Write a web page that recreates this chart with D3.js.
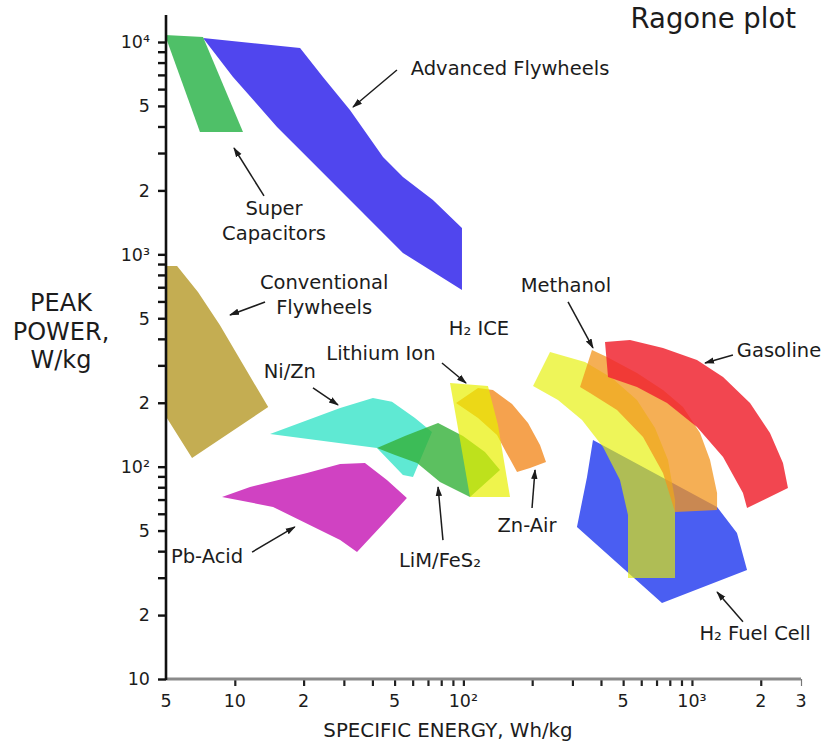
<!DOCTYPE html>
<html>
<head>
<meta charset="utf-8">
<script src="https://cdn.jsdelivr.net/npm/d3@7"></script>
<style>
  body { margin: 0; background: #fff; }
  text { font-family: "DejaVu Sans", Verdana, sans-serif; fill: #1c1c1c; }
</style>
</head>
<body>
<div id="container"></div>
<script>
/* DATA — every point is [specific energy Wh/kg, peak power W/kg] */
const superCapacitors = [[4.95,10790],[7.26,10560],[10.86,3769],[7.04,3769]]
const advancedFlywheels = [[7.26,10440],[19.3,9372],[24.3,6843],[31.9,4784],[44.5,2873],[54.4,2313],
  [73.6,1803],[98.6,1331],[98.6,679],[54.4,1015],[34.25,1671],[22.9,2578],[15.3,3978],[9.82,6843]]
const conventionalFlywheels = [[4.95,881],[5.59,881],[6.9,665],[8.6,465],[10.9,301],[14.0,191],[6.5,109.9],[4.95,175]]
const niZn = [[14.26,142.5],[28.9,188.9],[40.2,210.6],[48.7,202],[61.4,169.5],[72.9,145.7],[60.2,89.4],[54.4,91.4],[41.9,122.4]]
const pbAcid = [[8.79,72],[11.66,80.2],[20.7,93.4],[28.9,103],[37.1,104.1],[46.3,86.5],[56.6,71.2],
  [45.4,54.9],[34.25,39.6],[28.9,45.1],[14.7,64.6]]
const limFeS2 = [[41.9,122.4],[55.5,139.5],[77.5,160.6],[99.6,139.5],[124.3,117.3],[144.6,96.5],
  [106.9,72],[79,84.7],[62.7,104.1],[50.2,113.5]]
const znAir = [[92.9,199.5],[115.9,234.8],[134.7,229.6],[163.3,197.4],[191.8,160.6],[216.4,126.5],
  [229.9,105.2],[195.7,98.6],[171.7,94.4],[153.6,117.3],[140.3,141],[115.9,169.5]]
const lithiumIon = [[87.4,247.8],[128.1,239.9],[141.7,157.1],[160,72],[106.9,72],[96.7,133.6]]
const h2FuelCell = [[369,133.6],[1288,64.6],[1574,48.7],[1742,32.6],[739.6,22.8],[314,52],[347.5,89.4]]
const h2Ice = [[239.4,346.8],[340.5,311.2],[447,261.6],[574.8,206.1],[689.4,152.1],[785.8,107.5],[843.2,69.7],
  [843.2,29.9],[525.1,29.9],[525.1,59.2],[484.3,86.5],[408.2,123.8],[330.4,165.9],[259.4,206.1],[201.7,239.9]]
const methanol = [[365.3,354.5],[425,328.5],[574.8,276.2],[747.1,229.6],[914,191],[1085,144.1],[1200,107.5],
  [1288,75.2],[1288,62.5],[843.2,61.2],[747.1,93.4],[610.9,138],[470.1,184.9],[358.1,222.3],[323.9,237.3]]
const gasoline = [[416.5,386.6],[535.8,395],[747.1,362.3],[1052,318],[1368,264.5],[1795,199.5],[2195,144.1],
  [2502,104.1],[2631,79.4],[1742,63.9],[1672,75.2],[1368,111.1],[1052,153.8],[778,199.5],[574.8,237.3],[429.4,264.5]]

const xTicks = [10,20,30,40,50,60,70,80,90,100,200,300,400,500,600,700,800,900,1000,2000,3000]
const xLabelValues = [5,10,20,50,100,500,1000,2000,3000]
const xLabelText = ["5","10","2","5","10²","5","10³","2","3"]
const yTicks = [10,20,30,40,50,60,70,80,90,100,200,300,400,500,600,700,800,900,
  1000,2000,3000,4000,5000,6000,7000,8000,9000,10000]
const yLabelValues = [10,20,50,100,200,500,1000,2000,5000,10000]
const yLabelText = ["10","2","5","10²","2","5","10³","2","5","10⁴"]

// annotations: label centre / arrow tail / arrow tip, in data units
const labelText = ["Advanced Flywheels","Super\nCapacitors","Conventional\nFlywheels","Ni/Zn","Lithium Ion","H₂ ICE",
  "Methanol","Gasoline","Zn-Air","LiM/FeS₂","Pb-Acid","H₂ Fuel Cell"]
const labelAt = [[160,6990],[14.84,1532],[24.6,686.8],[17.4,261.6],[43.6,318],[117,417],
  [281,665],[2404,328.5],[189.8,49.2],[79,33.7],[7.56,35.2],[1888,15.3]]
const arrowFrom = [[51.2,7383],[13.42,1883],[13.56,596.5],[21.98,234.8],[80.6,307.8],null,
  [287,596.5],[1511,335.7],[199.7,63.9],[81.4,45.1],[11.9,39.6],[1672,18.6]]
const arrowTo = [[32.9,4942],[9.92,3168],[9.53,518],[28.28,195.2],[102.7,247.8],null,
  [369,362.3],[1141,307.8],[205.8,96.5],[77.5,80.2],[18.3,52],[1288,25.7]]

/* STYLES (draw order = layer order) */
const layers = [
  {pts: advancedFlywheels, fill: "#5046ee", op: 1},
  {pts: superCapacitors, fill: "#4fc068", op: 1},
  {pts: conventionalFlywheels, fill: "#c4ad52", op: 1},
  {pts: niZn, fill: "#5fe9d3", op: 1},
  {pts: pbAcid, fill: "#d042c2", op: 1},
  {pts: limFeS2, fill: "rgb(51,176,56)", op: 0.8},
  {pts: znAir, fill: "#f5a24e", op: 1},
  {pts: lithiumIon, fill: "rgb(232,240,0)", op: 0.7},
  {pts: h2FuelCell, fill: "#4a5ef2", op: 1},
  {pts: h2Ice, fill: "rgb(229,240,0)", op: 0.65},
  {pts: methanol, fill: "rgb(242,150,31)", op: 0.76},
  {pts: gasoline, fill: "rgb(240,38,49)", op: 0.85}
]

const width = 821, height = 751

const svg = d3.select("#container")
  .append("svg")
    .attr("width", width)
    .attr("height", height)
svg.append("rect").attr("width", width).attr("height", height).attr("fill", "#fff")

// SCALES
const xScale = d3.scaleLog().domain([5, 3000]).range([166, 801])
const yScale = d3.scaleLog().domain([10, 10000]).range([679, 42])

// REGIONS
const region = d3.line()
  .x(d => xScale(d[0]))
  .y(d => yScale(d[1]))
  .curve(d3.curveLinearClosed)

svg.append("g").selectAll("path")
  .data(layers)
  .join("path")
    .attr("d", d => region(d.pts))
    .attr("fill", d => d.fill)
    .attr("fill-opacity", d => d.op)

// AXES
const xAxis = svg.append("g")
  .attr("transform", "translate(0," + yScale(10) + ")")
  .call(d3.axisBottom(xScale).tickValues(xTicks).tickSize(7).tickFormat(""))
xAxis.select(".domain").remove()
xAxis.selectAll(".tick line").attr("stroke", "#222").attr("stroke-width", 2.2)
xAxis.selectAll(".tick line").filter(d => d === 3000).attr("stroke", "#777").attr("stroke-width", 1.2)

svg.append("line")
  .attr("x1", xScale(5)).attr("x2", xScale(3000))
  .attr("y1", yScale(10)).attr("y2", yScale(10))
  .attr("stroke", "#8a8a8a").attr("stroke-width", 3)

const yAxis = svg.append("g")
  .attr("transform", "translate(" + xScale(5) + ",0)")
  .call(d3.axisLeft(yScale).tickValues(yTicks).tickSize(8).tickFormat(""))
yAxis.select(".domain").remove()
yAxis.selectAll(".tick line").attr("stroke", "#111").attr("stroke-width", 2.4)

svg.append("line")
  .attr("x1", xScale(5)).attr("x2", xScale(5))
  .attr("y1", yScale(10) + 1).attr("y2", yScale(10000) - 27)
  .attr("stroke", "#111").attr("stroke-width", 2.6)

svg.append("g").selectAll("text")
  .data(xLabelValues)
  .join("text")
    .attr("x", d => xScale(d))
    .attr("y", yScale(10) + 28)
    .attr("text-anchor", "middle")
    .style("font-size", "17.5px")
    .text((d, i) => xLabelText[i])

svg.append("g").selectAll("text")
  .data(yLabelValues)
  .join("text")
    .attr("x", xScale(5) - 16)
    .attr("y", d => yScale(d))
    .attr("dy", "0.36em")
    .attr("text-anchor", "end")
    .style("font-size", "17.5px")
    .text((d, i) => yLabelText[i])

svg.append("text")
  .attr("x", 448)
  .attr("y", 737)
  .attr("text-anchor", "middle")
  .style("font-size", "19.8px")
  .text("SPECIFIC ENERGY, Wh/kg")

svg.append("text")
  .attr("text-anchor", "middle")
  .style("font-size", "24px")
  .selectAll("tspan")
  .data(["PEAK", "POWER,", "W/kg"])
  .join("tspan")
    .attr("x", 61)
    .attr("y", (d, i) => 311 + i * 28.5)
    .text(d => d)

svg.append("text")
  .attr("x", 796)
  .attr("y", 28)
  .attr("text-anchor", "end")
  .style("font-size", "27.5px")
  .text("Ragone plot")

// ARROWS + LABELS
svg.append("defs").append("marker")
  .attr("id", "head")
  .attr("viewBox", "0 0 10 10")
  .attr("refX", 9).attr("refY", 5)
  .attr("markerWidth", 10).attr("markerHeight", 10)
  .attr("markerUnits", "userSpaceOnUse")
  .attr("orient", "auto")
  .append("path")
    .attr("d", "M0,1.8 L10,5 L0,8.2 z")
    .attr("fill", "#1c1c1c")

svg.append("g").selectAll("line")
  .data(arrowFrom.map((d, i) => [d, arrowTo[i]]).filter(d => d[0]))
  .join("line")
    .attr("x1", d => xScale(d[0][0])).attr("y1", d => yScale(d[0][1]))
    .attr("x2", d => xScale(d[1][0])).attr("y2", d => yScale(d[1][1]))
    .attr("stroke", "#1c1c1c")
    .attr("stroke-width", 1.5)
    .attr("marker-end", "url(#head)")

svg.append("g").selectAll("text")
  .data(labelText)
  .join("text")
    .attr("text-anchor", "middle")
    .style("font-size", "19.5px")
    .each(function(d, i) {
      d3.select(this).selectAll("tspan")
        .data(d.split("\n"))
        .join("tspan")
          .attr("x", xScale(labelAt[i][0]))
          .attr("y", (t, j) => yScale(labelAt[i][1]) + j * 25)
          .text(t => t)
    })
</script>
</body>
</html>
